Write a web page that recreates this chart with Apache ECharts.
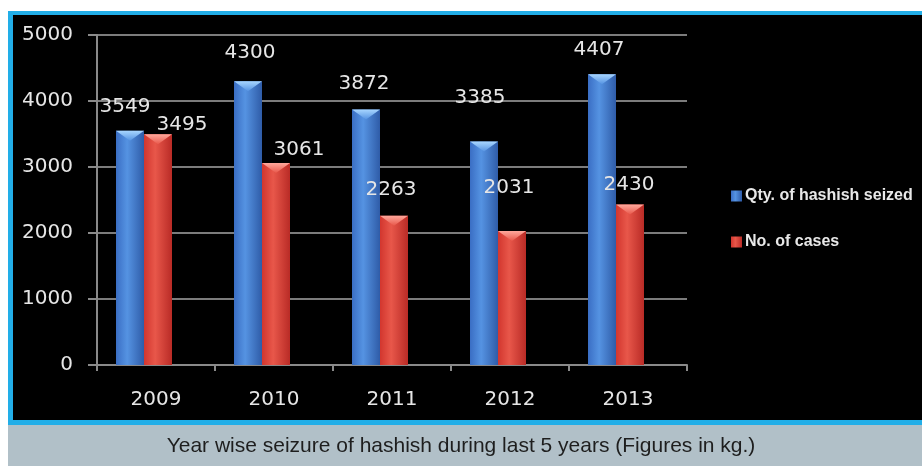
<!DOCTYPE html>
<html>
<head>
<meta charset="utf-8">
<style>
  html, body { margin: 0; padding: 0; background: #ffffff; }
  #chart { width: 922px; height: 466px; }
</style>
<script src="https://cdn.jsdelivr.net/npm/echarts@6/dist/echarts.min.js"></script>
</head>
<body>
<div id="chart"></div>
<script>
// Year wise seizure of hashish
const years = ['2009', '2010', '2011', '2012', '2013'];
const qtySeized = [3549, 4300, 3872, 3385, 4407];
const noOfCases = [3495, 3061, 2263, 2031, 2430];
const yTicks = { min: 0, max: 5000, step: 1000 };
const seriesNames = ['Qty. of hashish seized', 'No. of cases'];
const caption = 'Year wise seizure of hashish during last 5 years (Figures in kg.)';

const chart = echarts.init(document.getElementById('chart'), null, { renderer: 'canvas' });

const BAR_W = 28;
const SPACER_W = 24;   // empty slot that pushes each bar pair left of the category centre
const valueFont = { color: '#e6e6e6', fontSize: 20, fontFamily: 'DejaVu Sans' };

// per-label nudges so the value labels sit where the chart author placed them
const qtyNudge = [[-5, 0], [2, -4], [-2, -2], [-4, -20], [-3, 0]];
const casesNudge = [[24, 14], [23, 11], [-3, -2], [-3, -19], [-1, 4]];

function cylinder(c1, c2, c3) {
  return new echarts.graphic.LinearGradient(0, 0, 1, 0, [
    { offset: 0, color: c1 },
    { offset: 0.4, color: c2 },
    { offset: 1, color: c3 }
  ]);
}
function cap(top, bottom) {
  return new echarts.graphic.LinearGradient(0, 0, 0, 1, [
    { offset: 0, color: top },
    { offset: 1, color: bottom }
  ]);
}

function barData(values, nudges) {
  return values.map((v, i) => ({
    value: v,
    label: { offset: nudges[i] }
  }));
}

const groupW = BAR_W * 2 + SPACER_W;
const qtyCentre = -groupW / 2 + BAR_W / 2;
const casesCentre = qtyCentre + BAR_W;

const option = {
  backgroundColor: '#ffffff',
  animation: false,
  graphic: [
    // black panel with a cyan frame, and the grey caption strip below it
    { type: 'rect', shape: { x: 8, y: 11, width: 920, height: 414 }, style: { fill: '#22aee8' }, z: -10 },
    { type: 'rect', shape: { x: 13, y: 15, width: 915, height: 405 }, style: { fill: '#000000' }, z: -9 },
    { type: 'rect', shape: { x: 8, y: 425, width: 914, height: 41 }, style: { fill: '#b1c0c8' }, z: -9 },
    {
      type: 'text', left: 'center', top: 436,
      style: { text: caption, fill: '#1e1e1e', font: '21px "Liberation Sans", sans-serif' }
    }
  ],
  legend: {
    data: seriesNames,
    orient: 'vertical',
    left: 726,
    top: 183,
    itemWidth: 11,
    itemHeight: 11,
    itemGap: 30,
    icon: 'rect',
    textStyle: { color: '#e8e8e8', fontSize: 16, fontWeight: 'bold', fontFamily: 'Liberation Sans', padding: [0, 0, 0, -2] }
  },
  grid: { left: 97, right: 235, top: 35, bottom: 101 },
  xAxis: {
    type: 'category',
    data: years,
    axisLine: { lineStyle: { color: '#8a8a8a', width: 2 } },
    axisTick: { show: true, length: 6, lineStyle: { color: '#8a8a8a', width: 2 } },
    axisLabel: { ...valueFont, margin: 25 }
  },
  yAxis: {
    type: 'value',
    min: yTicks.min,
    max: yTicks.max,
    interval: yTicks.step,
    axisLine: { show: true, lineStyle: { color: '#8a8a8a', width: 2 } },
    axisTick: { show: true, length: 9, lineStyle: { color: '#8a8a8a', width: 2 } },
    splitLine: { lineStyle: { color: '#7c7c7c', width: 2 } },
    axisLabel: { ...valueFont, margin: 24, formatter: v => String(v) }
  },
  series: [
    {
      name: seriesNames[0],
      type: 'bar',
      barWidth: BAR_W,
      barGap: '0%',
      itemStyle: { color: cylinder('#3a6ec4', '#5593e2', '#2f5ca8') },
      label: { show: true, position: 'top', distance: 14, ...valueFont },
      data: barData(qtySeized, qtyNudge)
    },
    {
      name: seriesNames[1],
      type: 'bar',
      barWidth: BAR_W,
      barGap: '0%',
      itemStyle: { color: cylinder('#d2362e', '#e8574a', '#b92b26') },
      label: { show: true, position: 'top', distance: 14, ...valueFont },
      data: barData(noOfCases, casesNudge)
    },
    {
      name: 'spacer',
      type: 'bar',
      barWidth: SPACER_W,
      barGap: '0%',
      silent: true,
      itemStyle: { color: 'transparent' },
      data: years.map(() => null)
    },
    // light conical caps on top of each cylinder
    {
      name: 'capQty',
      type: 'pictorialBar',
      symbol: 'path://M0,0 L10,0 L5,4 Z',
      symbolSize: [BAR_W, 10],
      symbolPosition: 'end',
      symbolOffset: [qtyCentre, 0],
      silent: true,
      z: 5,
      itemStyle: { color: cap('#a8d6ff', '#5593e2') },
      data: qtySeized
    },
    {
      name: 'capCases',
      type: 'pictorialBar',
      symbol: 'path://M0,0 L10,0 L5,4 Z',
      symbolSize: [BAR_W, 10],
      symbolPosition: 'end',
      symbolOffset: [casesCentre, 0],
      silent: true,
      z: 5,
      itemStyle: { color: cap('#ffa89c', '#e8574a') },
      data: noOfCases
    }
  ]
};

chart.setOption(option);
</script>
</body>
</html>
